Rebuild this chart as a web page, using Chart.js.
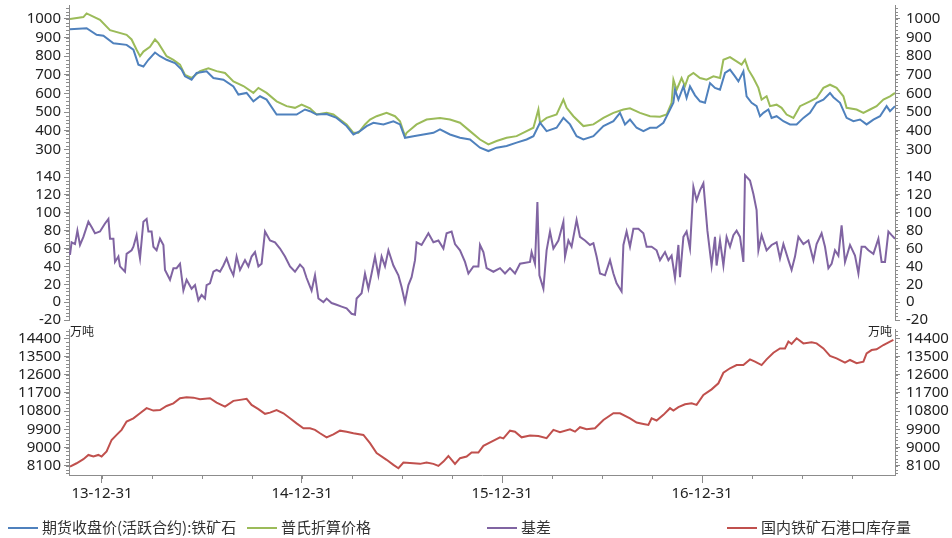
<!DOCTYPE html>
<html lang="zh">
<head>
<meta charset="UTF-8">
<title>铁矿石 期现价格、基差与港口库存</title>
<script src="https://cdn.jsdelivr.net/npm/chart.js@4/dist/chart.umd.min.js"></script>
<style>
  body { margin: 0; background: #fff; }
  #wrap { position: relative; width: 952px; height: 538px; overflow: hidden; background: #fff; }
  .panel { position: absolute; left: 0; width: 952px; }
  .unit { position: absolute; font: 12px "Noto Sans CJK SC", sans-serif; color: #222; }
  .lg { position: absolute; top: 516px; height: 22px; font: 15px "Noto Sans CJK SC", sans-serif; color: #333; white-space: nowrap; line-height: 22px; }
  .lg i { display: inline-block; width: 30px; height: 2px; vertical-align: middle; margin-right: 4px; position: relative; top: -1px; }
</style>
</head>
<body>
<div id="wrap">
  <div class="panel" style="top:0;height:172px"><canvas id="cPrice"></canvas></div>
  <div class="panel" style="top:162px;height:172px"><canvas id="cBasis"></canvas></div>
  <div class="panel" style="top:322px;height:216px"><canvas id="cStock"></canvas></div>
  <span class="unit" style="left:70px;top:322px">万吨</span>
  <span class="unit" style="left:868px;top:322px">万吨</span>
  <div id="legend"></div>
</div>
<script>
// x values are decimal years: 2014.0 = 13-12-31
const xTicks = [2014, 2015, 2016, 2017]
const xTickLabels = ["13-12-31", "14-12-31", "15-12-31", "16-12-31"]

const priceTicks = [300, 400, 500, 600, 700, 800, 900, 1000]
const basisTicks = [-20, 0, 20, 40, 60, 80, 100, 120, 140]
const stockTicks = [8100, 9000, 9900, 10800, 11700, 12600, 13500, 14400]

// 期货收盘价(活跃合约):铁矿石
const futT = [2013.84, 2013.923, 2013.973, 2014.007, 2014.057, 2014.123, 2014.157, 2014.182, 2014.207, 2014.232,
  2014.265, 2014.29, 2014.323, 2014.365, 2014.398, 2014.415, 2014.448, 2014.473, 2014.523, 2014.557,
  2014.607, 2014.657, 2014.682, 2014.723, 2014.757, 2014.79, 2014.823, 2014.873, 2014.923, 2014.973,
  2015.015, 2015.04, 2015.073, 2015.123, 2015.173, 2015.223, 2015.257, 2015.29, 2015.323, 2015.357,
  2015.407, 2015.457, 2015.49, 2015.515, 2015.557, 2015.607, 2015.657, 2015.69, 2015.74, 2015.79,
  2015.84, 2015.89, 2015.932, 2015.973, 2016.023, 2016.073, 2016.123, 2016.157, 2016.19, 2016.223,
  2016.273, 2016.307, 2016.34, 2016.373, 2016.407, 2016.457, 2016.507, 2016.557, 2016.59, 2016.615,
  2016.64, 2016.673, 2016.707, 2016.74, 2016.773, 2016.807, 2016.832, 2016.857, 2016.865, 2016.882,
  2016.907, 2016.923, 2016.94, 2016.965, 2016.99, 2017.015, 2017.04, 2017.065, 2017.09, 2017.115,
  2017.14, 2017.165, 2017.182, 2017.207, 2017.223, 2017.248, 2017.273, 2017.29, 2017.307, 2017.332,
  2017.348, 2017.373, 2017.407, 2017.44, 2017.473, 2017.507, 2017.54, 2017.573, 2017.607, 2017.64,
  2017.657, 2017.69, 2017.723, 2017.757, 2017.79, 2017.823, 2017.857, 2017.89, 2017.923, 2017.94, 2017.965]
const futV = [945, 950, 915, 910, 870, 861, 835, 755, 745, 781,
  820, 800, 781, 763, 728, 692, 674, 710, 719, 683,
  674, 638, 594, 603, 558, 585, 567, 487, 487, 487,
  514, 505, 487, 490, 469, 425, 380, 398, 425, 443,
  434, 451, 434, 362, 371, 380, 389, 407, 380, 362,
  353, 309, 291, 309, 318, 336, 353, 371, 443, 398,
  416, 469, 434, 371, 353, 371, 425, 451, 496, 434,
  460, 416, 398, 416, 416, 443, 496, 550, 620, 567,
  638, 576, 638, 590, 558, 550, 656, 630, 620, 710,
  728, 692, 665, 719, 585, 550, 532, 478, 496, 514,
  469, 478, 451, 434, 434, 469, 496, 550, 567, 603,
  580, 550, 469, 451, 460, 434, 460, 478, 532, 505, 532]

// 普氏折算价格
const plattsT = [2013.84, 2013.907, 2013.923, 2013.99, 2014.04, 2014.123, 2014.148, 2014.173, 2014.19, 2014.207,
  2014.24, 2014.265, 2014.282, 2014.323, 2014.357, 2014.39, 2014.415, 2014.448, 2014.49, 2014.532,
  2014.573, 2014.615, 2014.657, 2014.707, 2014.757, 2014.782, 2014.823, 2014.873, 2014.923, 2014.965,
  2014.998, 2015.04, 2015.073, 2015.123, 2015.157, 2015.19, 2015.223, 2015.257, 2015.282, 2015.315,
  2015.34, 2015.373, 2015.423, 2015.465, 2015.49, 2015.515, 2015.523, 2015.573, 2015.623, 2015.69,
  2015.74, 2015.79, 2015.84, 2015.89, 2015.932, 2015.973, 2016.023, 2016.073, 2016.123, 2016.157,
  2016.182, 2016.19, 2016.223, 2016.273, 2016.307, 2016.323, 2016.357, 2016.407, 2016.457, 2016.507,
  2016.557, 2016.607, 2016.64, 2016.69, 2016.74, 2016.79, 2016.823, 2016.848, 2016.857, 2016.873,
  2016.898, 2016.915, 2016.932, 2016.957, 2016.99, 2017.023, 2017.057, 2017.09, 2017.107, 2017.14,
  2017.173, 2017.198, 2017.215, 2017.232, 2017.257, 2017.282, 2017.298, 2017.323, 2017.34, 2017.373,
  2017.398, 2017.423, 2017.457, 2017.49, 2017.54, 2017.573, 2017.607, 2017.64, 2017.673, 2017.707,
  2017.723, 2017.773, 2017.807, 2017.84, 2017.873, 2017.907, 2017.94, 2017.965]
const plattsV = [1000, 1010, 1030, 995, 940, 915, 890, 835, 800, 825,
  850, 890, 870, 800, 780, 755, 700, 683, 720, 735,
  720, 710, 665, 640, 603, 630, 603, 558, 532, 523,
  540, 520, 487, 496, 487, 460, 434, 389, 389, 434,
  460, 478, 496, 478, 451, 371, 389, 434, 460, 469,
  460, 443, 398, 353, 327, 345, 362, 371, 398, 416,
  514, 443, 469, 487, 567, 523, 478, 425, 434, 469,
  496, 514, 520, 496, 478, 475, 487, 550, 674, 620,
  683, 640, 692, 710, 683, 674, 692, 683, 781, 795,
  772, 755, 781, 728, 683, 630, 567, 585, 532, 540,
  523, 487, 469, 532, 558, 576, 630, 647, 630, 585,
  523, 514, 496, 514, 532, 567, 585, 603]

// 基差
const basisT = [2013.84, 2013.848, 2013.865, 2013.877, 2013.89, 2013.907, 2013.932, 2013.948, 2013.965, 2013.99,
  2014.015, 2014.032, 2014.04, 2014.057, 2014.065, 2014.082, 2014.09, 2014.115, 2014.123, 2014.148,
  2014.157, 2014.173, 2014.182, 2014.19, 2014.207, 2014.223, 2014.232, 2014.248, 2014.257, 2014.273,
  2014.29, 2014.307, 2014.315, 2014.34, 2014.357, 2014.373, 2014.39, 2014.407, 2014.423, 2014.448,
  2014.465, 2014.482, 2014.498, 2014.515, 2014.523, 2014.54, 2014.557, 2014.573, 2014.59, 2014.607,
  2014.623, 2014.64, 2014.657, 2014.673, 2014.69, 2014.715, 2014.732, 2014.748, 2014.765, 2014.782,
  2014.798, 2014.815, 2014.84, 2014.865, 2014.89, 2014.915, 2014.94, 2014.965, 2014.99, 2015.007,
  2015.023, 2015.048, 2015.065, 2015.082, 2015.107, 2015.123, 2015.148, 2015.173, 2015.198, 2015.223,
  2015.248, 2015.265, 2015.273, 2015.298, 2015.315, 2015.332, 2015.348, 2015.365, 2015.382, 2015.398,
  2015.415, 2015.432, 2015.457, 2015.482, 2015.498, 2015.515, 2015.532, 2015.548, 2015.565, 2015.573,
  2015.598, 2015.632, 2015.657, 2015.682, 2015.707, 2015.723, 2015.748, 2015.765, 2015.79, 2015.815,
  2015.832, 2015.857, 2015.882, 2015.89, 2015.907, 2015.923, 2015.957, 2015.99, 2016.015, 2016.04,
  2016.065, 2016.09, 2016.14, 2016.148, 2016.165, 2016.177, 2016.187, 2016.207, 2016.223, 2016.24,
  2016.257, 2016.282, 2016.307, 2016.315, 2016.332, 2016.348, 2016.373, 2016.39, 2016.415, 2016.44,
  2016.457, 2016.473, 2016.49, 2016.515, 2016.54, 2016.557, 2016.573, 2016.598, 2016.607, 2016.623,
  2016.64, 2016.657, 2016.682, 2016.707, 2016.723, 2016.748, 2016.773, 2016.79, 2016.815, 2016.832,
  2016.848, 2016.865, 2016.882, 2016.89, 2016.907, 2016.923, 2016.94, 2016.957, 2016.973, 2016.99,
  2017.007, 2017.027, 2017.048, 2017.065, 2017.073, 2017.09, 2017.107, 2017.123, 2017.14, 2017.157,
  2017.173, 2017.19, 2017.207, 2017.215, 2017.24, 2017.257, 2017.273, 2017.282, 2017.298, 2017.323,
  2017.348, 2017.373, 2017.39, 2017.407, 2017.432, 2017.448, 2017.465, 2017.482, 2017.507, 2017.532,
  2017.557, 2017.573, 2017.598, 2017.615, 2017.632, 2017.648, 2017.665, 2017.682, 2017.698, 2017.715,
  2017.74, 2017.765, 2017.782, 2017.798, 2017.815, 2017.832, 2017.857, 2017.882, 2017.898, 2017.915,
  2017.932, 2017.948, 2017.965]
const basisV = [53, 67, 65, 80, 64, 73, 90, 84, 77, 79,
  88, 93, 71, 71, 45, 51, 40, 34, 54, 58,
  62, 75, 60, 49, 90, 93, 79, 79, 62, 58,
  71, 64, 36, 25, 38, 38, 43, 13, 25, 15,
  19, 2, 8, 4, 19, 21, 34, 36, 34, 41,
  49, 38, 30, 51, 36, 47, 40, 51, 56, 40,
  43, 79, 69, 67, 60, 51, 40, 34, 42, 38,
  27, 13, 30, 4, 0, 4, -1, -3, -5, -7,
  -13, -14, 4, 10, 32, 15, 32, 51, 30, 51,
  40, 58, 41, 30, 17, 0, 19, 28, 47, 67,
  64, 77, 67, 69, 60, 77, 79, 65, 58, 45,
  32, 40, 40, 64, 56, 38, 34, 38, 32, 38,
  32, 43, 45, 56, 43, 112, 30, 15, 58, 79,
  60, 69, 90, 51, 69, 62, 92, 73, 69, 64,
  66, 51, 32, 30, 47, 32, 21, 12, 64, 79,
  62, 82, 82, 77, 62, 62, 58, 47, 56, 47,
  52, 27, 64, 28, 73, 79, 60, 129, 114, 125,
  133, 80, 41, 73, 41, 69, 41, 73, 62, 75,
  80, 73, 45, 142, 136, 121, 103, 58, 75, 58,
  64, 67, 49, 65, 47, 36, 51, 73, 65, 69,
  47, 65, 77, 62, 38, 43, 58, 52, 86, 45,
  64, 52, 32, 62, 62, 58, 54, 71, 45, 45,
  79, 75, 71]

// 国内铁矿石港口库存量 (万吨)
const stockT = [2013.84, 2013.873, 2013.907, 2013.932, 2013.957, 2013.982, 2013.998, 2014.023, 2014.048, 2014.073,
  2014.098, 2014.123, 2014.157, 2014.19, 2014.223, 2014.257, 2014.29, 2014.323, 2014.357, 2014.39,
  2014.423, 2014.457, 2014.49, 2014.54, 2014.573, 2014.615, 2014.657, 2014.69, 2014.723, 2014.748,
  2014.782, 2014.815, 2014.84, 2014.873, 2014.907, 2014.94, 2014.973, 2015.007, 2015.04, 2015.065,
  2015.09, 2015.123, 2015.157, 2015.19, 2015.223, 2015.257, 2015.307, 2015.34, 2015.373, 2015.423,
  2015.457, 2015.482, 2015.507, 2015.557, 2015.59, 2015.623, 2015.657, 2015.682, 2015.707, 2015.732,
  2015.765, 2015.79, 2015.823, 2015.848, 2015.882, 2015.907, 2015.948, 2015.99, 2016.007, 2016.04,
  2016.065, 2016.098, 2016.14, 2016.182, 2016.223, 2016.257, 2016.29, 2016.34, 2016.365, 2016.39,
  2016.423, 2016.465, 2016.507, 2016.557, 2016.59, 2016.64, 2016.673, 2016.707, 2016.732, 2016.748,
  2016.773, 2016.807, 2016.84, 2016.857, 2016.882, 2016.915, 2016.948, 2016.973, 2017.007, 2017.048,
  2017.082, 2017.107, 2017.14, 2017.173, 2017.207, 2017.24, 2017.265, 2017.298, 2017.323, 2017.357,
  2017.39, 2017.415, 2017.432, 2017.448, 2017.473, 2017.507, 2017.548, 2017.573, 2017.607, 2017.64,
  2017.673, 2017.715, 2017.74, 2017.773, 2017.807, 2017.823, 2017.848, 2017.873, 2017.907, 2017.94, 2017.957]
const stockV = [8067, 8230, 8430, 8640, 8560, 8640, 8560, 8810, 9380, 9630,
  9880, 10290, 10450, 10700, 10950, 10830, 10860, 11060, 11190, 11440,
  11490, 11470, 11390, 11440, 11225, 11030, 11310, 11360, 11410, 11110,
  10900, 10670, 10730, 10860, 10700, 10450, 10200, 9960, 9960, 9880,
  9710, 9510, 9660, 9840, 9790, 9710, 9630, 9220, 8730, 8400,
  8150, 7985, 8265, 8230, 8200, 8265, 8200, 8100, 8310, 8590,
  8200, 8480, 8560, 8760, 8760, 9090, 9300, 9510, 9460, 9840,
  9790, 9510, 9600, 9580, 9470, 9880, 9760, 9910, 9790, 10010,
  9910, 9960, 10370, 10700, 10700, 10450, 10240, 10170, 10120, 10450,
  10340, 10620, 10950, 10830, 11000, 11140, 11190, 11110, 11600, 11880,
  12180, 12700, 12920, 13080, 13080, 13360, 13250, 13080, 13360, 13690,
  13900, 13900, 14240, 14120, 14400, 14150, 14200, 14150, 13900, 13530,
  13410, 13200, 13330, 13170, 13250, 13660, 13820, 13860, 14070, 14240, 14320]

const xMin = 2013.835, xMax = 2017.965
const axisColor = "#8c8c8c"
const tickFont = { family: "Noto Sans", size: 15 }
const tickColor = "#222"

const series = [
  { name: "期货收盘价(活跃合约):铁矿石", color: "#4f81bd" },
  { name: "普氏折算价格", color: "#9bbb59" },
  { name: "基差", color: "#8064a2" },
  { name: "国内铁矿石港口库存量", color: "#c0504d" },
]
const legendLeft = [8, 247, 487, 727]

const pts = (t, v) => t.map((x, i) => ({ x, y: v[i] }))

// small ticks between the labelled ones
const minorTicks = {
  id: "minorTicks",
  afterDraw(chart, args, opts) {
    const ctx = chart.ctx
    ctx.save()
    ctx.strokeStyle = axisColor
    ctx.lineWidth = 1
    ctx.beginPath()
    Object.entries(opts.steps || {}).forEach(([id, step]) => {
      const s = chart.scales[id]
      if (!s) return
      for (let k = Math.ceil(s.min / step - 1e-6); k * step <= s.max + 1e-6; k++) {
        const p = Math.round(s.getPixelForValue(k * step)) + 0.5
        if (s.axis === "x") { ctx.moveTo(p, s.top); ctx.lineTo(p, s.top + 4) }
        else if (s.position === "left") { ctx.moveTo(s.right - 3, p); ctx.lineTo(s.right, p) }
        else { ctx.moveTo(s.left, p); ctx.lineTo(s.left + 3, p) }
      }
    })
    ctx.stroke()
    ctx.restore()
  }
}

function yAxis(position, min, max, ticks) {
  return {
    type: "linear",
    position,
    min, max,
    grid: { drawOnChartArea: false, drawTicks: true, tickLength: 5, color: axisColor },
    border: { display: true, color: axisColor, width: 1 },
    ticks: { font: tickFont, color: tickColor, padding: position === "left" ? 3 : 6,
      autoSkip: false, callback: v => String(v) },
    afterBuildTicks: s => { s.ticks = ticks.map(value => ({ value })) },
    afterFit: s => {
      s.width = position === "left" ? 69 : 57
      s.paddingTop = 0; s.paddingBottom = 0
    }
  }
}

function xAxis(show) {
  return {
    type: "linear",
    min: xMin, max: xMax,
    display: show,
    grid: { drawOnChartArea: false, drawTicks: true, tickLength: 8, color: axisColor },
    border: { display: true, color: axisColor, width: 1 },
    ticks: { font: tickFont, color: tickColor, padding: 2, maxRotation: 0, autoSkip: false,
      callback: v => xTickLabels[xTicks.indexOf(v)] ?? "" },
    afterBuildTicks: s => { s.ticks = xTicks.map(value => ({ value })) },
    afterFit: s => {
      s.height = show ? 63 : 0
      s.paddingLeft = 0; s.paddingRight = 0
    }
  }
}

function line(label, data, color) {
  return { label, data, borderColor: color, backgroundColor: color, borderWidth: 2,
    pointRadius: 0, tension: 0, yAxisID: "y" }
}

function makeChart(id, datasets, yMin, yMax, yTicks, minorStep, showX, padding) {
  const steps = { y: minorStep, yR: minorStep }
  if (showX) steps.x = 0.25
  return new Chart(document.getElementById(id), {
    type: "line",
    data: { datasets },
    options: {
      responsive: true,
      maintainAspectRatio: false,
      animation: false,
      layout: { padding },
      plugins: { legend: { display: false }, tooltip: { enabled: false }, minorTicks: { steps } },
      scales: {
        x: xAxis(showX),
        y: yAxis("left", yMin, yMax, yTicks),
        yR: yAxis("right", yMin, yMax, yTicks),
      }
    },
    plugins: [minorTicks]
  })
}

makeChart("cPrice", [
  line(series[0].name, pts(futT, futV), series[0].color),
  line(series[1].name, pts(plattsT, plattsV), series[1].color),
], 200, 1075, priceTicks, 20, false, { top: 5, bottom: 4, left: 0, right: 0 })

makeChart("cBasis", [
  line(series[2].name, pts(basisT, basisV), series[2].color),
], -20, 149, basisTicks, 4, false, { top: 7, bottom: 14, left: 0, right: 0 })

makeChart("cStock", [
  line(series[3].name, pts(stockT, stockV), series[3].color),
], 7650, 14860, stockTicks, 180, true, { top: 7, bottom: 0, left: 0, right: 0 })

// legend spread across the bottom like the original
const legend = document.getElementById("legend")
series.forEach((s, i) => {
  const el = document.createElement("div")
  el.className = "lg"
  el.style.left = legendLeft[i] + "px"
  el.innerHTML = `<i style="background:${s.color}"></i>${s.name}`
  legend.appendChild(el)
})
</script>
</body>
</html>
